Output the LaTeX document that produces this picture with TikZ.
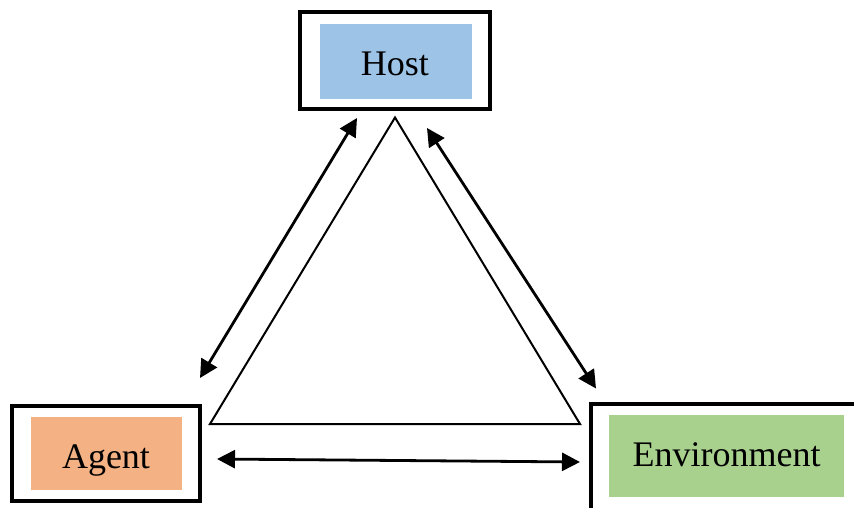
\documentclass[tikz,border=0pt]{standalone}
\usepackage{fontspec}
\setmainfont{Liberation Serif}
\usetikzlibrary{arrows.meta}
\definecolor{hostblue}{HTML}{9DC3E6}
\definecolor{agentorange}{HTML}{F4B183}
\definecolor{envgreen}{HTML}{A9D18E}
\tikzset{
  outerbox/.style={draw=black, line width=3.5pt, inner sep=0pt, fill=white},
  innerbox/.style={inner sep=0pt},
  lbl/.style={inner sep=0pt, anchor=base, font=\fontsize{36}{43}\selectfont, text=black},
  rel/.style={line width=2.8pt, {Triangle[length=18pt,width=18pt]}-{Triangle[length=18pt,width=18pt]}},
  tri/.style={line width=2pt, line join=miter}
}
\begin{document}
\begin{tikzpicture}[x=1pt,y=-1pt]
\useasboundingbox (0,0) rectangle (854,508);
% boxes
\node[outerbox, minimum width=190pt, minimum height=97pt] (host) at (395,60.3) {};
\node[innerbox, fill=hostblue, minimum width=152pt, minimum height=75pt] (hostin) at (396,61.7) {};
\node[lbl] (hosttxt) at (395,76) {Host};
\node[outerbox, minimum width=188pt, minimum height=95pt] (agent) at (106,453.4) {};
\node[innerbox, fill=agentorange, minimum width=151.6pt, minimum height=72.7pt] (agentin) at (106.5,453.7) {};
\node[lbl] (agenttxt) at (106,468) {Agent};
\node[outerbox, minimum width=271pt, minimum height=106pt] (env) at (726.5,457) {};
\node[innerbox, fill=envgreen, minimum width=234.7pt, minimum height=82.3pt] (envin) at (726.7,456.2) {};
\node[lbl] (envtxt) at (726.5,466) {Environment};
% triangle
\coordinate (ta) at (395,117.5);
\coordinate (tl) at (210,424);
\coordinate (tr) at (580,424);
\draw[tri] (ta) -- (tl) -- (tr) -- cycle;
% arrows
\coordinate (a1) at (357,118);
\coordinate (a2) at (200,378);
\coordinate (b1) at (427,128);
\coordinate (b2) at (596,388.5);
\coordinate (c1) at (217,459);
\coordinate (c2) at (580,462);
\draw[rel] (a1) -- (a2);
\draw[rel] (b1) -- (b2);
\draw[rel] (c1) -- (c2);
\end{tikzpicture}
\end{document}
